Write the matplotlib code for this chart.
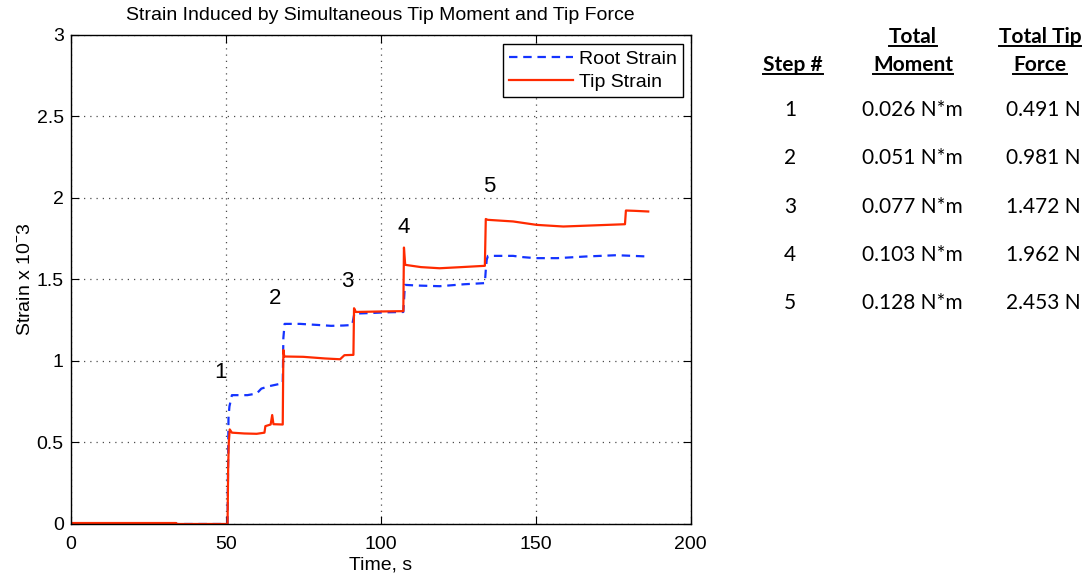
import matplotlib
matplotlib.use("Agg")
import matplotlib.pyplot as plt
from matplotlib.lines import Line2D

plt.rcParams['font.family'] = ['Liberation Sans', 'DejaVu Sans']
plt.rcParams['mathtext.fontset'] = 'custom'
plt.rcParams['mathtext.rm'] = 'Liberation Sans'

# ---- data ----
root_t = [0, 34, 34.2, 50.6, 50.9, 51.2, 52, 57, 60, 61.5, 64, 68.4, 68.6, 69, 74, 80, 84, 88, 90.8,
          91.5, 96, 102, 107.3, 107.8, 112, 119, 127, 133.6, 133.9, 134.2, 134.6, 142.7, 146, 150,
          157, 166, 176, 180, 186.3]
root_y = [0.004, 0.004, 0.0, 0.0, 0.65, 0.72, 0.79, 0.79, 0.80, 0.83, 0.845, 0.863, 1.14, 1.227, 1.227,
          1.22, 1.215, 1.217, 1.22, 1.29, 1.293, 1.298, 1.30, 1.466, 1.462, 1.458, 1.47, 1.477, 1.558,
          1.62, 1.644, 1.644, 1.636, 1.630, 1.630, 1.640, 1.648, 1.645, 1.640]

tip_t = [0, 34, 34.2, 50.6, 50.8, 51.0, 51.3, 52, 56, 60, 62.5, 62.8, 64.5, 65.0, 65.4, 68.4, 68.6,
         68.9, 75, 82, 86.9, 88.3, 91.2, 91.4, 92, 100, 107.3, 107.5, 107.9, 113, 119, 126, 133.6,
         133.9, 134.5, 142.7, 150.3, 158.9, 167.5, 178.8, 179.1, 182, 186.3]
tip_y = [0.006, 0.006, 0.0, 0.0, 0.35, 0.50, 0.58, 0.56, 0.555, 0.553, 0.56, 0.60, 0.61, 0.668, 0.612,
         0.61, 1.067, 1.027, 1.025, 1.015, 1.01, 1.035, 1.037, 1.323, 1.30, 1.303, 1.305, 1.695, 1.589,
         1.575, 1.568, 1.575, 1.583, 1.87, 1.865, 1.855, 1.834, 1.824, 1.830, 1.838, 1.922, 1.92, 1.916]

step_labels = ['1', '2', '3', '4', '5']
step_label_t = [48.2, 65.9, 89.2, 107.5, 135.0]
step_label_y = [0.926, 1.384, 1.486, 1.815, 2.068]

x_ticks = [0, 50, 100, 150, 200]
y_ticks = [0, 0.5, 1, 1.5, 2, 2.5, 3]

table_steps = ['1', '2', '3', '4', '5']
table_moment = ['0.026 N*m', '0.051 N*m', '0.077 N*m', '0.103 N*m', '0.128 N*m']
table_force = ['0.491 N', '0.981 N', '1.472 N', '1.962 N', '2.453 N']

W, H = 1088, 578
fig = plt.figure(figsize=(W / 100, H / 100), dpi=100)
ax = fig.add_axes([70.7 / W, 1 - 524 / H, 620 / W, 489.3 / H])

root_line, = ax.plot(root_t, root_y, color='#1433ff', lw=1.6, label='Root Strain')
root_line.set_dashes([3.8, 2.6])
ax.plot(tip_t, tip_y, color='#ff2a00', lw=1.6, label='Tip Strain')

for s, tx, ty in zip(step_labels, step_label_t, step_label_y):
    ax.text(tx, ty, s, fontsize=16, ha='center', va='center')

ax.set_xlim(0, 200)
ax.set_ylim(0, 3)
ax.set_xticks(x_ticks)
ax.set_yticks(y_ticks)
ax.set_xticklabels([str(v) for v in x_ticks])
ax.set_yticklabels(['0', '0.5', '1', '1.5', '2', '2.5', '3'])
ax.tick_params(direction='in', length=6, width=0.8, top=True, right=True, labelsize=14)
ax.tick_params(axis='x', pad=8.5)
ax.tick_params(axis='y', pad=5)
ax.grid(True, color='0.3', linestyle=(0, (1, 4)), linewidth=0.9)
for sp in ax.spines.values():
    sp.set_linewidth(1.0)

ax.set_title('Strain Induced by Simultaneous Tip Moment and Tip Force', fontsize=14, pad=10.5)
ax.set_xlabel('Time, s', fontsize=14, labelpad=3)
ax.set_ylabel('Strain x 10$^{-}$3', fontsize=14, labelpad=2)

leg = ax.legend(loc='upper right', bbox_to_anchor=((683 - 70.7) / 620, (524 - 44) / 489.3),
                borderaxespad=0, fontsize=14, fancybox=False, framealpha=1, edgecolor='black',
                handlelength=3.3, handletextpad=0.3, labelspacing=0.28, borderpad=0.32)
leg.get_frame().set_linewidth(1.0)

# ---- table on the right ----
tfont = ['Lato', 'DejaVu Sans']
fs = 15

def fx(px):
    return px / W

def fy(py):
    return 1 - py / H

headers = [('Total', 913, 37.3), ('Total Tip', 1040, 37.3),
           ('Step #', 792.7, 65), ('Moment', 913, 65), ('Force', 1040, 65)]
underline_y = {37.3: 46, 65: 73.5}
header_texts = []
for txt, px, py in headers:
    t = fig.text(fx(px), fy(py), txt, fontsize=fs, fontweight='bold', family=tfont,
                 ha='center', va='center')
    header_texts.append((t, py))

row_y = [110, 158.3, 206.7, 255, 303.3]
for s, m, f, py in zip(table_steps, table_moment, table_force, row_y):
    fig.text(fx(790), fy(py), s, fontsize=fs, family=tfont, ha='center', va='center')
    fig.text(fx(912.5), fy(py), m, fontsize=fs, family=tfont, ha='center', va='center')
    fig.text(fx(1043), fy(py), f, fontsize=fs, family=tfont, ha='center', va='center')

fig.canvas.draw()
renderer = fig.canvas.get_renderer()
for t, py in header_texts:
    bb = t.get_window_extent(renderer)
    uy = fy(underline_y[py])
    fig.add_artist(Line2D([bb.x0 / W, bb.x1 / W], [uy, uy], transform=fig.transFigure,
                          color='black', lw=1.4))

fig.savefig('out.png', dpi=100)
